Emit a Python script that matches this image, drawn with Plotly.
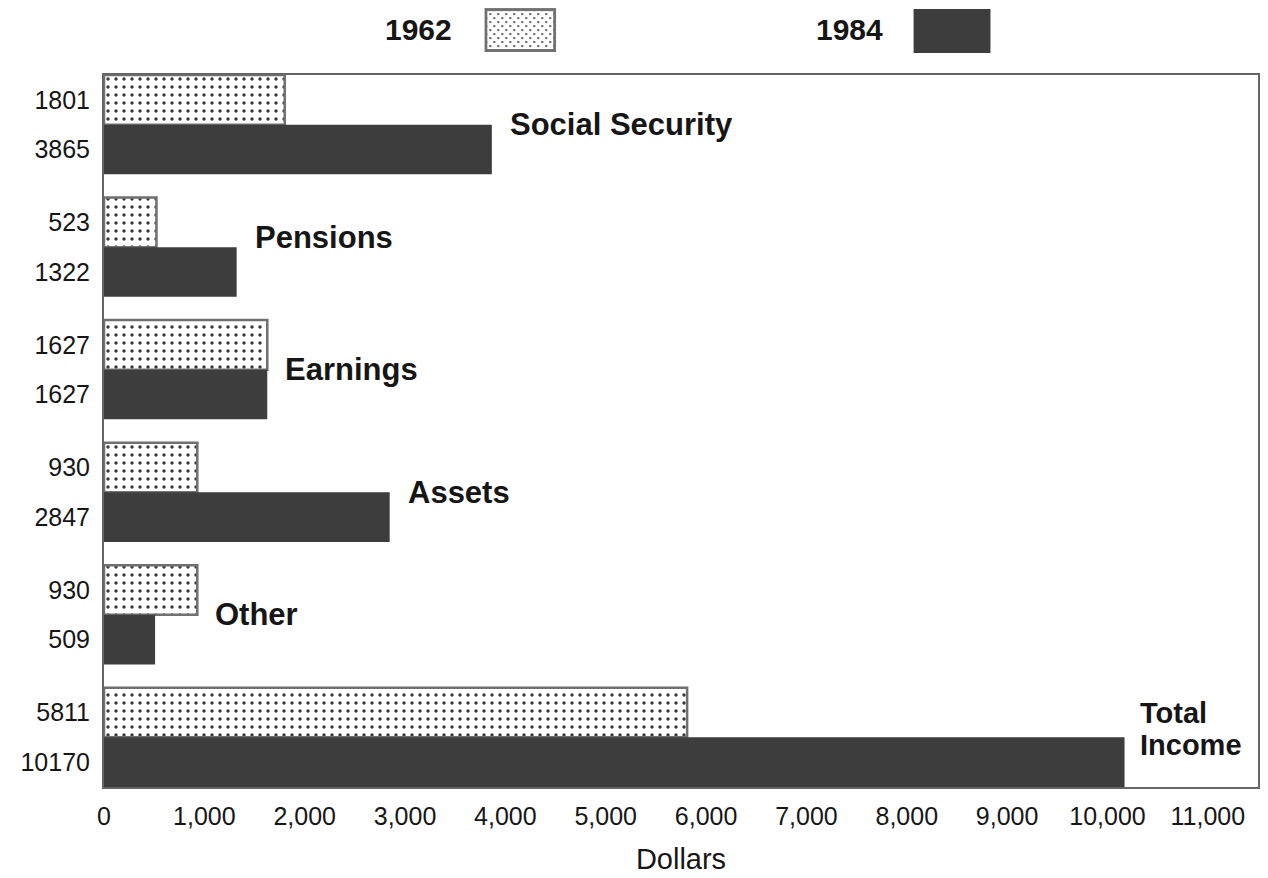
import base64
import plotly.graph_objects as go

# Average income sources, 1962 vs 1984 (dollars)
categories = ["Social Security", "Pensions", "Earnings", "Assets", "Other", "Total Income"]
values_1962 = [1801, 523, 1627, 930, 930, 5811]
values_1984 = [3865, 1322, 1627, 2847, 509, 10170]
series_names = ["1962", "1984"]
x_tick_values = list(range(0, 12000, 1000))
x_tick_labels = [f"{v:,}" for v in x_tick_values]

# Layout geometry (pixels)
W, H = 1268, 878
PLOT_L, PLOT_R, PLOT_T, PLOT_B = 104, 1260, 75, 788
BARGAP = 0.19
BAR_W = (1 - BARGAP) / 2

FONT = "Liberation Sans, Arial, Helvetica, sans-serif"
INK = "#161616"
DARK = "#3d3d3d"
OUTLINE = "#707070"


def px_x(x):
    return (x - PLOT_L) / (PLOT_R - PLOT_L)


def px_y(y):
    return (PLOT_B - y) / (PLOT_B - PLOT_T)


positions = list(range(len(categories)))

fig = go.Figure()
fig.add_trace(go.Bar(
    name=series_names[0], orientation="h", y=positions, x=values_1962,
    marker=dict(
        color="white",
        line=dict(color=OUTLINE, width=2.5),
        pattern=dict(shape=".", fgcolor="#3a3a3a", bgcolor="white",
                     size=8, solidity=0.14, fillmode="replace"),
    ),
    hoverinfo="x+name",
))
fig.add_trace(go.Bar(
    name=series_names[1], orientation="h", y=positions, x=values_1984,
    marker=dict(color=DARK, line=dict(width=0)),
    hoverinfo="x+name",
))

# value labels down the left edge, one per bar
y_ticks, y_text = [], []
for i, (a, b) in enumerate(zip(values_1962, values_1984)):
    y_ticks += [i - BAR_W / 2, i + BAR_W / 2]
    y_text += [str(a), str(b)]

# category labels beside the longest bar in each pair
label_yshift = [0, 10, 0, 0, 0, 0]
annotations = []
for i, name in enumerate(categories):
    end = max(values_1962[i], values_1984[i])
    if name == "Total Income":
        for word, dy in zip(name.split(), [24, -8]):
            annotations.append(dict(
                x=end, y=i, xref="x", yref="y", text=f"<b>{word}</b>",
                showarrow=False, xanchor="left", yanchor="middle",
                xshift=13, yshift=dy,
                font=dict(family=FONT, size=29, color=INK),
            ))
    else:
        annotations.append(dict(
            x=end, y=i, xref="x", yref="y", text=f"<b>{name}</b>",
            showarrow=False, xanchor="left", yanchor="middle",
            xshift=16, yshift=label_yshift[i],
            font=dict(family=FONT, size=31, color=INK),
        ))

# legend: year labels with swatches
for name, cx in zip(series_names, [419, 851]):
    annotations.append(dict(
        x=px_x(cx), y=px_y(29), xref="paper", yref="paper",
        text=f"<b>{name}</b>", showarrow=False,
        xanchor="center", yanchor="middle",
        font=dict(family=FONT, size=30, color=INK),
    ))

dot_svg = (
    '<svg xmlns="http://www.w3.org/2000/svg" width="72" height="44" viewBox="0 0 72 44">'
    '<defs><pattern id="d" width="8" height="8" patternUnits="userSpaceOnUse">'
    '<circle cx="2" cy="2" r="1.1" fill="#3a3a3a"/>'
    '<circle cx="6" cy="6" r="1.1" fill="#3a3a3a"/></pattern></defs>'
    '<rect x="1.5" y="1.5" width="69" height="41" fill="white"/>'
    '<rect x="1.5" y="1.5" width="69" height="41" fill="url(#d)" '
    'stroke="#707070" stroke-width="3"/></svg>'
)
dot_src = "data:image/svg+xml;base64," + base64.b64encode(dot_svg.encode()).decode()

fig.add_layout_image(dict(
    source=dot_src, xref="paper", yref="paper",
    x=px_x(485), y=px_y(8), sizex=72 / (PLOT_R - PLOT_L), sizey=44 / (PLOT_B - PLOT_T),
    xanchor="left", yanchor="top", sizing="stretch", layer="above",
))
fig.add_shape(
    type="rect", xref="paper", yref="paper",
    x0=px_x(915), x1=px_x(992), y0=px_y(53), y1=px_y(9),
    fillcolor=DARK, line=dict(width=0),
)

fig.update_layout(
    width=W, height=H,
    margin=dict(l=PLOT_L, r=W - PLOT_R, t=PLOT_T, b=H - PLOT_B),
    paper_bgcolor="white", plot_bgcolor="white",
    barmode="group", bargap=BARGAP, bargroupgap=0,
    showlegend=False,
    annotations=annotations,
    font=dict(family=FONT, color=INK),
    xaxis=dict(
        range=[0, 11500], tickvals=x_tick_values, ticktext=x_tick_labels,
        ticks="", showgrid=False, zeroline=False,
        showline=True, mirror=True, linecolor="#666666", linewidth=2,
        tickfont=dict(family=FONT, size=25, color=INK),
        ticklabelstandoff=6,
        title=dict(text="Dollars", font=dict(family=FONT, size=29, color=INK), standoff=20),
    ),
    yaxis=dict(
        range=[len(categories) - 1 + 0.405, -0.405],
        tickvals=y_ticks, ticktext=y_text,
        ticks="", showgrid=False, zeroline=False,
        showline=True, mirror=True, linecolor="#666666", linewidth=2,
        tickfont=dict(family=FONT, size=25, color=INK),
        ticklabelstandoff=7,
    ),
)

fig.write_html("out.html")
